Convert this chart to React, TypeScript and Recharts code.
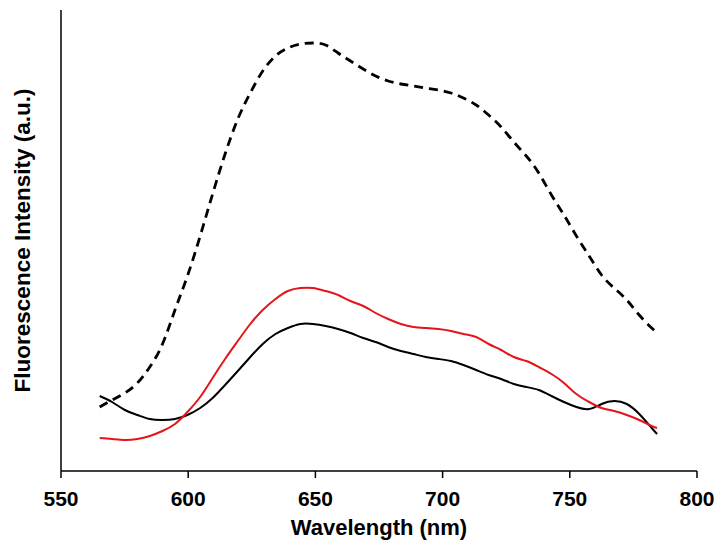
import { LineChart, Line, XAxis, YAxis } from "recharts";

const wavelengths = [
  565.2, 570.1, 575.1, 580.0, 584.9, 589.9, 594.8, 599.7, 604.7, 609.6, 614.5, 619.5,
  624.4, 629.3, 634.3, 639.2, 644.1, 649.0, 654.0, 658.9, 663.8, 668.8, 673.7, 678.6,
  683.6, 688.5, 693.4, 698.4, 703.3, 708.2, 713.2, 718.1, 723.0, 728.0, 732.9, 737.8,
  742.8, 747.7, 752.6, 757.6, 762.5, 767.4, 772.4, 777.3, 782.2, 784.3,
];

const dashedValues = [
  64, 71, 78, 88, 104, 127, 161, 195, 235, 277, 317, 352,
  378, 400, 415, 423, 427, 428, 426, 418, 410, 402, 395, 390,
  387, 385, 383, 381, 378, 373, 366, 356, 344, 329, 315, 298,
  276, 256, 235, 215, 196, 183, 171, 156, 143, 139,
];

const blackValues = [
  75, 69, 61, 56, 52, 51, 52, 56, 63, 73, 86, 100,
  114, 127, 137, 143, 147, 147, 145, 142, 138, 133, 129, 124,
  120, 117, 114, 112, 110, 106, 101, 96, 92, 87, 84, 81,
  75, 69, 64, 62, 67, 70, 67, 57, 43, 37,
];

const redValues = [
  33, 32, 31, 32, 35, 40, 47, 59, 74, 93, 112, 130,
  147, 161, 172, 180, 183, 183, 180, 176, 170, 165, 158, 152,
  147, 144, 143, 142, 140, 137, 134, 127, 121, 114, 110, 104,
  97, 88, 77, 69, 63, 60, 56, 51, 45, 43,
];

const xTicks = [550, 600, 650, 700, 750, 800];

const data = wavelengths.map((w, i) => ({
  wavelength: w,
  dashed: dashedValues[i],
  black: blackValues[i],
  red: redValues[i],
}));

const font = "'Liberation Sans', Arial, sans-serif";

function YLabel(props: any) {
  const vb = props.viewBox || {};
  const cx = 22;
  const cy = vb.y + vb.height / 2;
  return (
    <text
      x={cx}
      y={cy}
      dy="0.35em"
      transform={`rotate(-90, ${cx}, ${cy})`}
      textAnchor="middle"
      fontFamily={font}
      fontWeight="bold"
      fontSize={22.5}
      fill="#000"
    >
      Fluorescence Intensity (a.u.)
    </text>
  );
}

export default function App() {
  return (
    <div style={{ position: "absolute", left: 0, top: 0, background: "#fff" }}>
      <LineChart
        width={719}
        height={541}
        data={data}
        margin={{ top: 10, right: 22, bottom: 10, left: 16 }}
      >
        <XAxis
          dataKey="wavelength"
          type="number"
          domain={[550, 800]}
          ticks={xTicks}
          height={60}
          tickSize={7}
          tickMargin={13}
          axisLine={{ stroke: "#000", strokeWidth: 1.5 }}
          tickLine={{ stroke: "#000", strokeWidth: 1.5 }}
          tick={{ fill: "#000", fontSize: 21, fontWeight: "bold", fontFamily: font }}
          label={{
            value: "Wavelength (nm)",
            position: "insideBottom",
            offset: -4,
            fill: "#000",
            fontSize: 22,
            fontWeight: "bold",
            fontFamily: font,
          }}
        />
        <YAxis
          type="number"
          domain={[0, 461]}
          width={45}
          tick={false}
          tickLine={false}
          axisLine={{ stroke: "#000", strokeWidth: 1.5 }}
          label={<YLabel />}
        />
        <Line
          type="natural"
          dataKey="dashed"
          stroke="#000"
          strokeWidth={2.8}
          strokeDasharray="9 6"
          dot={false}
          isAnimationActive={false}
        />
        <Line
          type="natural"
          dataKey="black"
          stroke="#000"
          strokeWidth={2}
          dot={false}
          isAnimationActive={false}
        />
        <Line
          type="natural"
          dataKey="red"
          stroke="#e3151a"
          strokeWidth={2}
          dot={false}
          isAnimationActive={false}
        />
      </LineChart>
    </div>
  );
}
